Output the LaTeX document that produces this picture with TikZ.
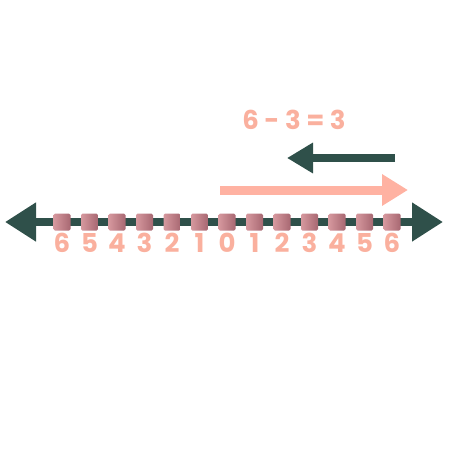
\documentclass[tikz,border=0pt]{standalone}
\usepackage{fontspec}
\setmainfont{Poppins}
\usepackage{tikz}
\usetikzlibrary{arrows.meta}
\definecolor{tealdark}{RGB}{47, 80, 74}
\definecolor{salmon}{RGB}{255, 178, 162}
\definecolor{numpink}{RGB}{250, 176, 158}
\definecolor{blocklight}{RGB}{238, 184, 186}
\definecolor{blockmid}{RGB}{214, 152, 158}
\definecolor{blockdark}{RGB}{168, 104, 114}

\tikzset{
    numblock/.style={minimum width=17pt,minimum height=17pt,inner sep=0pt,
        rounded corners=1.5pt,left color=blockmid,middle color=blocklight,right color=blockdark},
    numlabel/.style={text=numpink,font=\fontsize{26}{26}\selectfont\bfseries,inner sep=0pt,anchor=center}
}

\begin{document}
\begin{tikzpicture}[x=1pt,y=-1pt]
        \useasboundingbox (0,0) rectangle (450,450);
        % number line
        \coordinate (lefttip) at (5,222);
        \coordinate (righttip) at (443,222);
        \draw[tealdark,line width=8pt,{Triangle[length=31pt,width=37pt]}-{Triangle[length=31pt,width=37pt]}]
            (lefttip) -- (righttip);
        % blocks and numbers
        \foreach \i in {-6,...,6}{
            \pgfmathtruncatemacro{\lab}{abs(\i)}
            \node[numblock] (b\lab\ifnum\i<0 l\else r\fi) at (227+27.5*\i,222) {};
            \node[numlabel] (n\lab\ifnum\i<0 l\else r\fi) at (227+27.5*\i,243) {\lab};
        }
        % equation
        \node[numlabel] (eq) at (294,120) {6 - 3 = 3};
        % forward move (0 to 6)
        \coordinate (fwdstart) at (220,190);
        \coordinate (fwdend) at (408,190);
        \draw[salmon,line width=9pt,-{Triangle[length=26pt,width=30pt]}] (fwdstart) -- (fwdend);
        % backward move (subtract 3)
        \coordinate (backstart) at (395,158);
        \coordinate (backend) at (287,158);
        \draw[tealdark,line width=8pt,-{Triangle[length=26pt,width=29pt]}] (backstart) -- (backend);
    \end{tikzpicture}
\end{document}
